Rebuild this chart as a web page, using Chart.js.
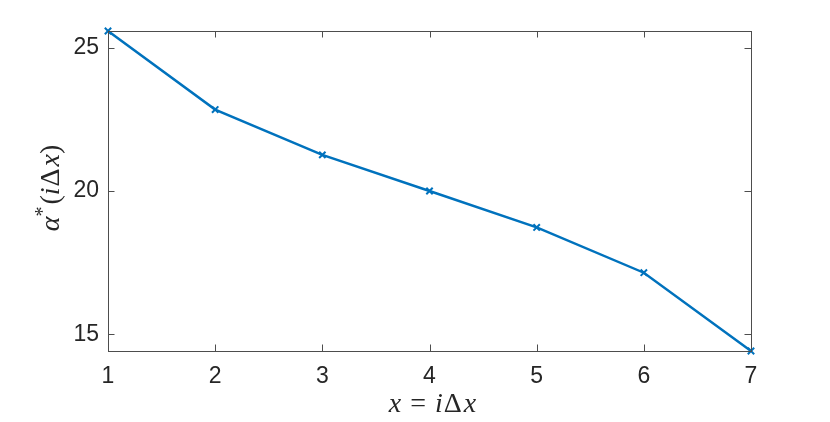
<!DOCTYPE html>
<html>
<head>
<meta charset="utf-8">
<script src="https://cdn.jsdelivr.net/npm/chart.js@4"></script>
<style>
  html, body { margin: 0; padding: 0; background: #fff; }
  #wrap { width: 830px; height: 422px; }
</style>
</head>
<body>
<div id="wrap"><canvas id="chart" width="830" height="422"></canvas></div>
<script>
const xValues = [1, 2, 3, 4, 5, 6, 7];
const alphaStar = [25.58, 22.84, 21.26, 20.0, 18.73, 17.15, 14.42];
const xTicks = [1, 2, 3, 4, 5, 6, 7];
const yTicks = [15, 20, 25];
const yMin = 14.42;
const yMax = 25.58;

// libellés en "LaTeX" : morceaux avec style (gap = espace en px)
const xLabelParts = [
  { t: 'x', it: true },
  { gap: 9 },
  { t: '=', it: false },
  { gap: 9 },
  { t: 'i', it: true },
  { gap: 1 },
  { t: 'Δ', it: false },
  { gap: 2 },
  { t: 'x', it: true }
];
const yLabelParts = [
  { t: 'α', it: true },
  { t: '*', it: false, sup: true },
  { gap: 2 },
  { t: '(', it: false },
  { t: 'i', it: true },
  { gap: 1 },
  { t: 'Δ', it: false },
  { gap: 2 },
  { t: 'x', it: true },
  { t: ')', it: false }
];

const AXIS_COLOR = '#4d4d4d';
const TEXT_COLOR = '#262626';
const LINE_COLOR = '#0072BD';
const TICK_LEN = 6.5;
const LABEL_SIZE = 28;

function partFont(p, size) {
  const s = p.sup ? Math.round(size * 0.72) : size;
  return `${p.it ? 'italic ' : ''}${s}px "Liberation Serif", "DejaVu Serif", serif`;
}

function drawParts(ctx, parts, size) {
  let total = 0;
  const widths = parts.map(p => {
    if (p.gap !== undefined) {
      total += p.gap;
      return p.gap;
    }
    ctx.font = partFont(p, size);
    const w = ctx.measureText(p.t).width;
    total += w;
    return w;
  });
  let x = -total / 2;
  parts.forEach((p, i) => {
    if (p.t) {
      ctx.font = partFont(p, size);
      ctx.fillText(p.t, x, p.sup ? -size * 0.36 : 0);
    }
    x += widths[i];
  });
}

const boxPlugin = {
  id: 'matlabBox',
  afterDraw(chart) {
    const { ctx, chartArea: a } = chart;
    const xs = chart.scales.x;
    const ys = chart.scales.y;
    ctx.save();
    ctx.strokeStyle = AXIS_COLOR;
    ctx.lineWidth = 1;
    ctx.strokeRect(a.left + 0.5, a.top + 0.5, a.right - a.left, a.bottom - a.top);

    ctx.beginPath();
    xTicks.forEach(v => {
      const px = Math.round(xs.getPixelForValue(v)) + 0.5;
      ctx.moveTo(px, a.bottom);
      ctx.lineTo(px, a.bottom - TICK_LEN);
      ctx.moveTo(px, a.top);
      ctx.lineTo(px, a.top + TICK_LEN);
    });
    yTicks.forEach(v => {
      const py = Math.round(ys.getPixelForValue(v)) + 0.5;
      ctx.moveTo(a.left, py);
      ctx.lineTo(a.left + TICK_LEN, py);
      ctx.moveTo(a.right, py);
      ctx.lineTo(a.right - TICK_LEN, py);
    });
    ctx.stroke();

    // titres des axes
    ctx.fillStyle = TEXT_COLOR;
    ctx.textBaseline = 'alphabetic';
    ctx.textAlign = 'left';
    ctx.translate((a.left + a.right) / 2 + 3, 412);
    drawParts(ctx, xLabelParts, LABEL_SIZE);
    ctx.restore();

    ctx.save();
    ctx.fillStyle = TEXT_COLOR;
    ctx.textBaseline = 'alphabetic';
    ctx.textAlign = 'left';
    ctx.translate(59, (a.top + a.bottom) / 2 - 3);
    ctx.rotate(-Math.PI / 2);
    drawParts(ctx, yLabelParts, LABEL_SIZE);
    ctx.restore();
  }
};

new Chart(document.getElementById('chart'), {
  type: 'line',
  data: {
    datasets: [{
      data: xValues.map((x, i) => ({ x, y: alphaStar[i] })),
      borderColor: LINE_COLOR,
      backgroundColor: LINE_COLOR,
      borderWidth: 2.5,
      pointStyle: 'crossRot',
      pointRadius: 4.5,
      pointBorderWidth: 2,
      tension: 0,
      clip: false
    }]
  },
  options: {
    responsive: false,
    animation: false,
    layout: { padding: { left: 0, top: 31, right: 79, bottom: 0 } },
    plugins: {
      legend: { display: false },
      tooltip: { enabled: false }
    },
    scales: {
      x: {
        type: 'linear',
        min: 1,
        max: 7,
        afterFit: scale => { scale.height = 71; },
        afterBuildTicks: scale => { scale.ticks = xTicks.map(v => ({ value: v })); },
        grid: { display: false, drawTicks: false },
        border: { display: false },
        ticks: {
          color: TEXT_COLOR,
          padding: 12,
          font: { family: '"Liberation Sans", Arial, sans-serif', size: 23 }
        }
      },
      y: {
        type: 'linear',
        min: yMin,
        max: yMax,
        afterFit: scale => { scale.width = 108; },
        afterBuildTicks: scale => { scale.ticks = yTicks.map(v => ({ value: v })); },
        grid: { display: false, drawTicks: false },
        border: { display: false },
        ticks: {
          color: TEXT_COLOR,
          padding: 9,
          font: { family: '"Liberation Sans", Arial, sans-serif', size: 23 }
        }
      }
    }
  },
  plugins: [boxPlugin]
});
</script>
</body>
</html>
